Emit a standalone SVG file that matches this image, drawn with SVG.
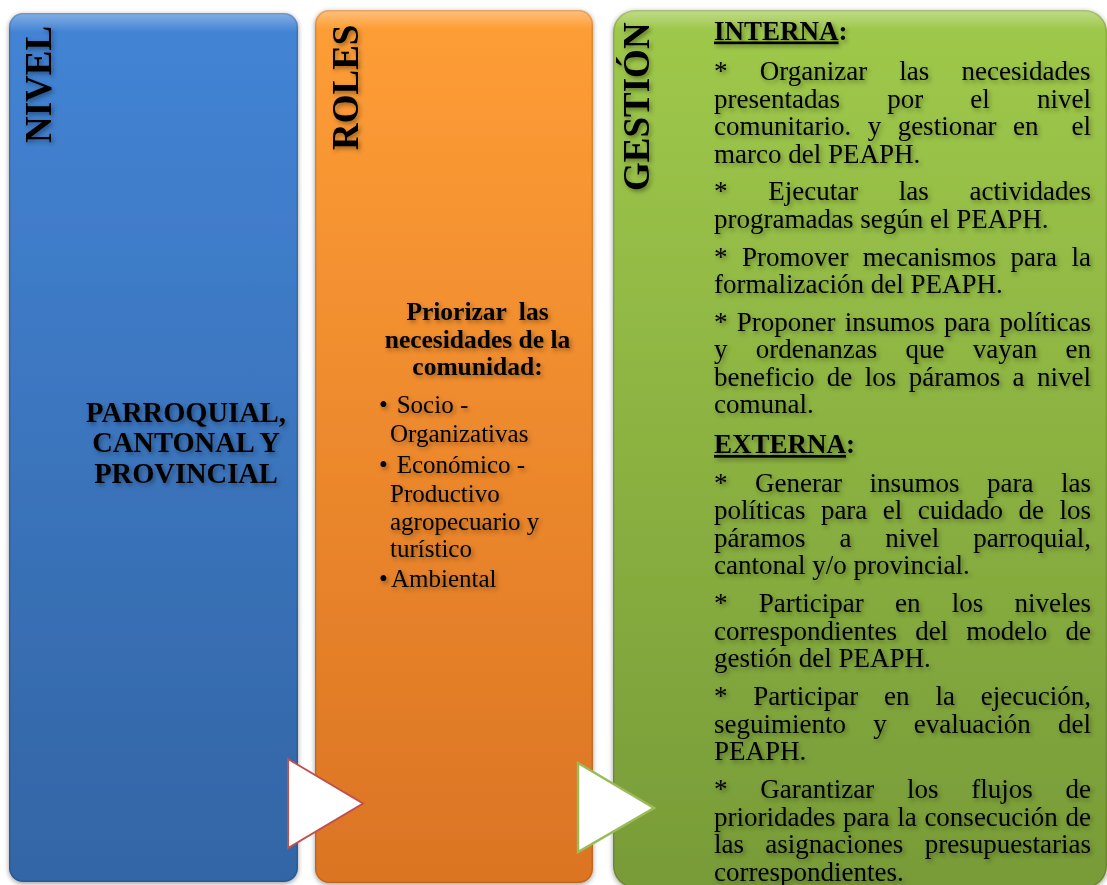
<svg xmlns="http://www.w3.org/2000/svg" width="1107" height="885" viewBox="0 0 1107 885">
<style>
.t{font-family:"Liberation Serif","Times New Roman",serif;fill:#000}
.hd{font-weight:bold;font-size:37px}
.g{font-size:27px}
.gb{font-size:27px;font-weight:bold}
.ob{font-size:25.5px;font-weight:bold}
.o{font-size:25px}
.bb{font-size:28.5px;font-weight:bold}
.panel{filter:url(#pshadow)}
.edge{fill:none;stroke:#000;stroke-opacity:0.12;stroke-width:1.5}
</style>
<defs>
<linearGradient id="blueG" x1="0" y1="0" x2="0" y2="1">
<stop offset="0" stop-color="#4384d5"/>
<stop offset="1" stop-color="#3365a5"/>
</linearGradient>
<linearGradient id="orangeG" x1="0" y1="0" x2="0" y2="1">
<stop offset="0" stop-color="#fe9e36"/>
<stop offset="1" stop-color="#db7424"/>
</linearGradient>
<linearGradient id="greenG" x1="0" y1="0" x2="0" y2="1">
<stop offset="0" stop-color="#9fc94b"/>
<stop offset="1" stop-color="#789b38"/>
</linearGradient>
<linearGradient id="shine" x1="0" y1="0" x2="0" y2="1">
<stop offset="0" stop-color="#fff" stop-opacity="0.35"/>
<stop offset="0.022" stop-color="#fff" stop-opacity="0"/>
<stop offset="1" stop-color="#fff" stop-opacity="0"/>
</linearGradient>
<filter id="pshadow" x="-5%" y="-5%" width="110%" height="110%">
<feDropShadow dx="0" dy="1.5" stdDeviation="2.5" flood-color="#000" flood-opacity="0.4"/>
</filter>
<filter id="tshadow" x="-10%" y="-10%" width="120%" height="120%">
<feDropShadow dx="2" dy="2.5" stdDeviation="2.2" flood-color="#000" flood-opacity="0.35"/>
</filter>
</defs>

<g id="node-nivel">
<rect class="panel" x="9" y="13" width="289" height="869" rx="14" fill="url(#blueG)"/>
<rect x="9" y="13" width="289" height="869" rx="14" fill="url(#shine)"/>
<rect class="edge" x="9.75" y="13.75" width="287.5" height="867.5" rx="13.5"/>
<g filter="url(#tshadow)">
<text class="t hd" transform="translate(51,143) rotate(-90)">NIVEL</text>
<text class="t bb" x="186" y="421.5" text-anchor="middle">PARROQUIAL,</text>
<text class="t bb" x="186" y="452" text-anchor="middle">CANTONAL Y</text>
<text class="t bb" x="186" y="482.5" text-anchor="middle">PROVINCIAL</text>
</g>
</g>

<g id="node-roles">
<rect class="panel" x="315" y="10" width="278" height="873" rx="14" fill="url(#orangeG)"/>
<rect x="315" y="10" width="278" height="873" rx="14" fill="url(#shine)"/>
<rect class="edge" x="315.75" y="10.75" width="276.5" height="871.5" rx="13.5"/>
<g filter="url(#tshadow)">
<text class="t hd" transform="translate(358,150) rotate(-90)">ROLES</text>
<text class="t ob" x="477.5" y="320" text-anchor="middle" word-spacing="6">Priorizar las</text>
<text class="t ob" x="477.5" y="348" text-anchor="middle">necesidades de la</text>
<text class="t ob" x="477.5" y="375" text-anchor="middle">comunidad:</text>
<text class="t o" x="379" y="413.3">•</text>
<text class="t o" x="396.7" y="413.3">Socio -</text>
<text class="t o" x="390" y="441.7">Organizativas</text>
<text class="t o" x="379" y="473.3">•</text>
<text class="t o" x="396.7" y="473.3">Económico -</text>
<text class="t o" x="390" y="501.7">Productivo</text>
<text class="t o" x="390" y="530">agropecuario y</text>
<text class="t o" x="390" y="556.7">turístico</text>
<text class="t o" x="379" y="586.7">•</text>
<text class="t o" x="391" y="586.7">Ambiental</text>
</g>
</g>

<g id="node-gestion">
<rect class="panel" x="613" y="10" width="494" height="878" rx="22" fill="url(#greenG)"/>
<rect x="613" y="10" width="494" height="878" rx="22" fill="url(#shine)"/>
<rect class="edge" x="613.75" y="10.75" width="492.5" height="876.5" rx="21.5"/>
<g filter="url(#tshadow)">
<text class="t hd" transform="translate(649,191) rotate(-90)">GESTIÓN</text>
<text class="t gb" x="714" y="39.5"><tspan text-decoration="underline">INTERNA</tspan>:</text>
<text class="t g" x="714" y="80" word-spacing="25.45">* Organizar las necesidades</text>
<text class="t g" x="714" y="107.5" word-spacing="40.44">presentadas por el nivel</text>
<text class="t g" x="714" y="135" word-spacing="9.71">comunitario. y gestionar en</text>
<text class="t g" x="1091" y="135" text-anchor="end">el</text>
<text class="t g" x="714" y="162.5">marco del PEAPH.</text>
<text class="t g" x="714" y="200" word-spacing="33.94">* Ejecutar las actividades</text>
<text class="t g" x="714" y="227.5">programadas según el PEAPH.</text>
<text class="t g" x="714" y="265.5" word-spacing="7.64">* Promover mecanismos para la</text>
<text class="t g" x="714" y="293">formalización del PEAPH.</text>
<text class="t g" x="714" y="330.5" word-spacing="2.38">* Proponer insumos para políticas</text>
<text class="t g" x="714" y="358" word-spacing="21.53">y ordenanzas que vayan en</text>
<text class="t g" x="714" y="385.5" word-spacing="5.66">beneficio de los páramos a nivel</text>
<text class="t g" x="714" y="413">comunal.</text>
<text class="t gb" x="714" y="453"><tspan text-decoration="underline">EXTERNA</tspan>:</text>
<text class="t g" x="714" y="491.5" word-spacing="20.77">* Generar insumos para las</text>
<text class="t g" x="714" y="519" word-spacing="8.66">políticas para el cuidado de los</text>
<text class="t g" x="714" y="546.5" word-spacing="27.19">páramos a nivel parroquial,</text>
<text class="t g" x="714" y="574">cantonal y/o provincial.</text>
<text class="t g" x="714" y="612" word-spacing="24.51">* Participar en los niveles</text>
<text class="t g" x="714" y="639.5" word-spacing="11.44">correspondientes del modelo de</text>
<text class="t g" x="714" y="667">gestión del PEAPH.</text>
<text class="t g" x="714" y="705" word-spacing="19.08">* Participar en la ejecución,</text>
<text class="t g" x="714" y="732.5" word-spacing="20.43">seguimiento y evaluación del</text>
<text class="t g" x="714" y="760">PEAPH.</text>
<text class="t g" x="714" y="798" word-spacing="26.02">* Garantizar los flujos de</text>
<text class="t g" x="714" y="825.5" word-spacing="0.91">prioridades para la consecución de</text>
<text class="t g" x="714" y="853" word-spacing="14.6">las asignaciones presupuestarias</text>
<text class="t g" x="714" y="880.5">correspondientes.</text>
</g>
</g>

<g id="connectors">
<polygon points="288,759 363,803.5 288,848" fill="#fff" stroke="#c0504d" stroke-width="2" stroke-linejoin="miter"/>
<polygon points="578,763 654,808 578,852" fill="#fff" stroke="#9bbb59" stroke-width="2.5" stroke-linejoin="miter"/>
</g>
</svg>
